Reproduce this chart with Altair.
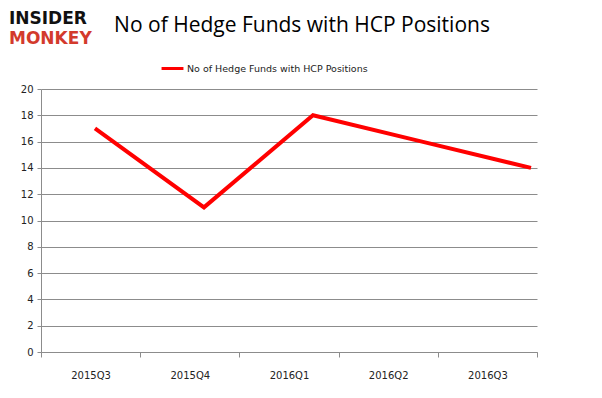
import altair as alt
import pandas as pd

quarters = ["2015Q3", "2015Q4", "2016Q1", "2016Q2", "2016Q3"]
funds = [17, 11, 18, 16, 14]
series_name = "No of Hedge Funds with HCP Positions"
y_ticks = [0, 2, 4, 6, 8, 10, 12, 14, 16, 18, 20]

df = pd.DataFrame({
    "quarter": quarters,
    "idx": list(range(len(quarters))),
    "funds": funds,
    "series": [series_name] * len(quarters),
})
one = pd.DataFrame({"k": [0]})

W, H = 496, 263

y_axis = alt.Axis(values=y_ticks, grid=True, gridColor="#8c8c8c",
                  domainColor="#8c8c8c", tickColor="#8c8c8c", tickSize=4,
                  labelFont="DejaVu Sans", labelFontSize=10, labelColor="#222",
                  labelPadding=4)

axis_layer = alt.Chart(df).mark_point(opacity=0).encode(
    x=alt.X("quarter:N", sort=quarters, title=None,
            scale=alt.Scale(paddingInner=0, paddingOuter=0),
            axis=alt.Axis(labelAngle=0, tickBand="extent", labelPadding=13,
                          tickSize=5, domainColor="#8c8c8c", tickColor="#8c8c8c",
                          labelFont="DejaVu Sans", labelFontSize=10, labelColor="#222",
                          grid=False)),
    y=alt.Y("funds:Q", title=None, scale=alt.Scale(domain=[0, 20]), axis=y_axis),
)

line_layer = alt.Chart(df).mark_line(strokeWidth=4).encode(
    x=alt.X("idx:Q", axis=None, scale=alt.Scale(domain=[-0.495, 4.055], nice=False, zero=False)),
    y=alt.Y("funds:Q", title=None, scale=alt.Scale(domain=[0, 20]), axis=y_axis),
    color=alt.Color("series:N", scale=alt.Scale(range=["#ff0000"]), title=None,
                    legend=alt.Legend(orient="none", legendX=119, legendY=-33,
                                      symbolType="stroke", symbolStrokeWidth=3,
                                      symbolSize=480, labelFont="DejaVu Sans",
                                      labelFontSize=9.5, labelColor="#222",
                                      labelOffset=2, labelLimit=0)),
)

title_layer = alt.Chart(one).mark_text(
    text="No of Hedge Funds with HCP Positions", font="Open Sans", fontSize=21,
    color="#000", align="center", baseline="middle"
).encode(x=alt.value(261), y=alt.value(-63))

logo_top = alt.Chart(one).mark_text(
    text="INSIDER", font="DejaVu Sans", fontWeight="bold", fontSize=17,
    color="#111", align="left", baseline="middle"
).encode(x=alt.value(-32), y=alt.value(-70))

logo_bottom = alt.Chart(one).mark_text(
    text="MONKEY", font="DejaVu Sans", fontWeight="bold", fontSize=17,
    color="#d33a2c", align="left", baseline="middle"
).encode(x=alt.value(-32), y=alt.value(-50))

chart = alt.layer(axis_layer, line_layer, title_layer, logo_top, logo_bottom).resolve_scale(
    x="independent"
).properties(
    width=W, height=H,
    autosize=alt.AutoSizeParams(type="none"),
    padding={"left": 33, "top": 81, "right": 57, "bottom": 38},
    background="white",
).configure_view(stroke=None)

chart.save("out.html", embed_options={"renderer": "svg", "actions": False})
